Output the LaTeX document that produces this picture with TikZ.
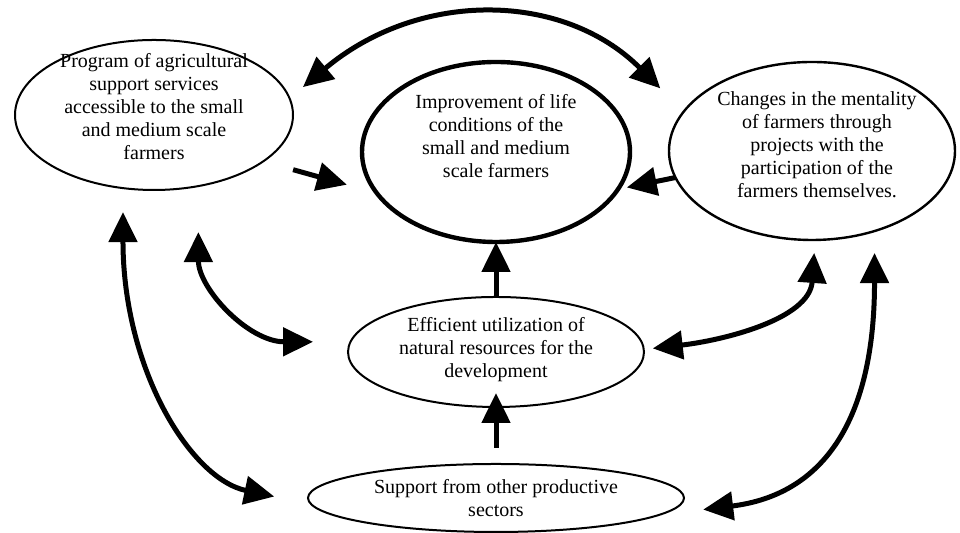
\documentclass[tikz,border=0pt]{standalone}
\usepackage{fontspec}
\setmainfont{Liberation Serif}
\usepackage{tikz}
\usetikzlibrary{shapes.geometric,arrows.meta}

\begin{document}
\begin{tikzpicture}[x=0.5pt,y=0.5pt,
    >={Triangle[length=15pt,width=14pt]},
    bubble/.style={draw,ellipse,inner sep=0pt,outer sep=0pt,line width=1pt},
    txt/.style={align=center,inner sep=0pt,font=\fontsize{10}{11.5}\selectfont},
    link/.style={line width=2.5pt}]
    \useasboundingbox (0,0) rectangle (960,533);
    % Draw the ellipses
    \node[bubble,minimum width=139pt,minimum height=75pt] (prog) at (154,418) {};
    \node[bubble,line width=2.2pt,minimum width=134pt,minimum height=90pt] (improve) at (496,381) {};
    \node[bubble,line width=1.2pt,minimum width=143pt,minimum height=89pt] (changes) at (812,382) {};
    \node[bubble,minimum width=148pt,minimum height=55pt] (effic) at (496,181) {};
    \node[bubble,minimum width=188pt,minimum height=34pt] (support) at (496,35) {};
    % Add the texts
    \node[txt] (prog-txt) at ([yshift=4pt]prog.center) {Program of agricultural\\support services\\accessible to the small\\and medium scale\\farmers};
    \node[txt] (improve-txt) at ([yshift=8pt]improve.center) {Improvement of life\\conditions of the\\small and medium\\scale farmers};
    \node[txt] (changes-txt) at ([xshift=2.5pt,yshift=3pt]changes.center) {Changes in the mentality\\of farmers through\\projects with the\\participation of the\\farmers themselves.};
    \node[txt] (effic-txt) at ([yshift=1pt]effic.center) {Efficient utilization of\\natural resources for the\\development};
    \node[txt] (support-txt) at (support.center) {Support from other productive\\sectors};
    % Draw the arrows
    \draw[link,<->,shorten <=8.75pt,shorten >=16.5pt] (prog.7) to[out=40,in=135,looseness=1.1] (changes.163);
    \draw[link,->,shorten <=15.5pt,shorten >=15.5pt] (prog.-23) -- (improve.-161);
    \draw[link,->,shorten >=4.5pt] (changes.191) -- (improve.-17);
    \draw[link,->] (effic.north) -- (improve.south);
    \draw[link,->,shorten <=8pt,shorten >=-7pt] (support.north) -- (effic.south);
    \draw[link,<->,shorten <=12pt,shorten >=19pt] (prog.-113) to[out=-90,in=168,out looseness=1.25,in looseness=0.86] (support.182);
    \draw[link,<->,shorten <=23pt,shorten >=18.75pt] (prog.-58) to[out=-90,in=180,looseness=1.2] (effic.176);
    \draw[link,<->,shorten <=4.5pt,shorten >=6.5pt] (effic.1) to[out=6.5,in=-94] (changes.-88);
    \draw[link,<->,shorten <=22.5pt,shorten >=11pt] (support.-6) to[out=7,in=-90,out looseness=1.18,in looseness=1.37] (changes.-52);
\end{tikzpicture}
\end{document}
